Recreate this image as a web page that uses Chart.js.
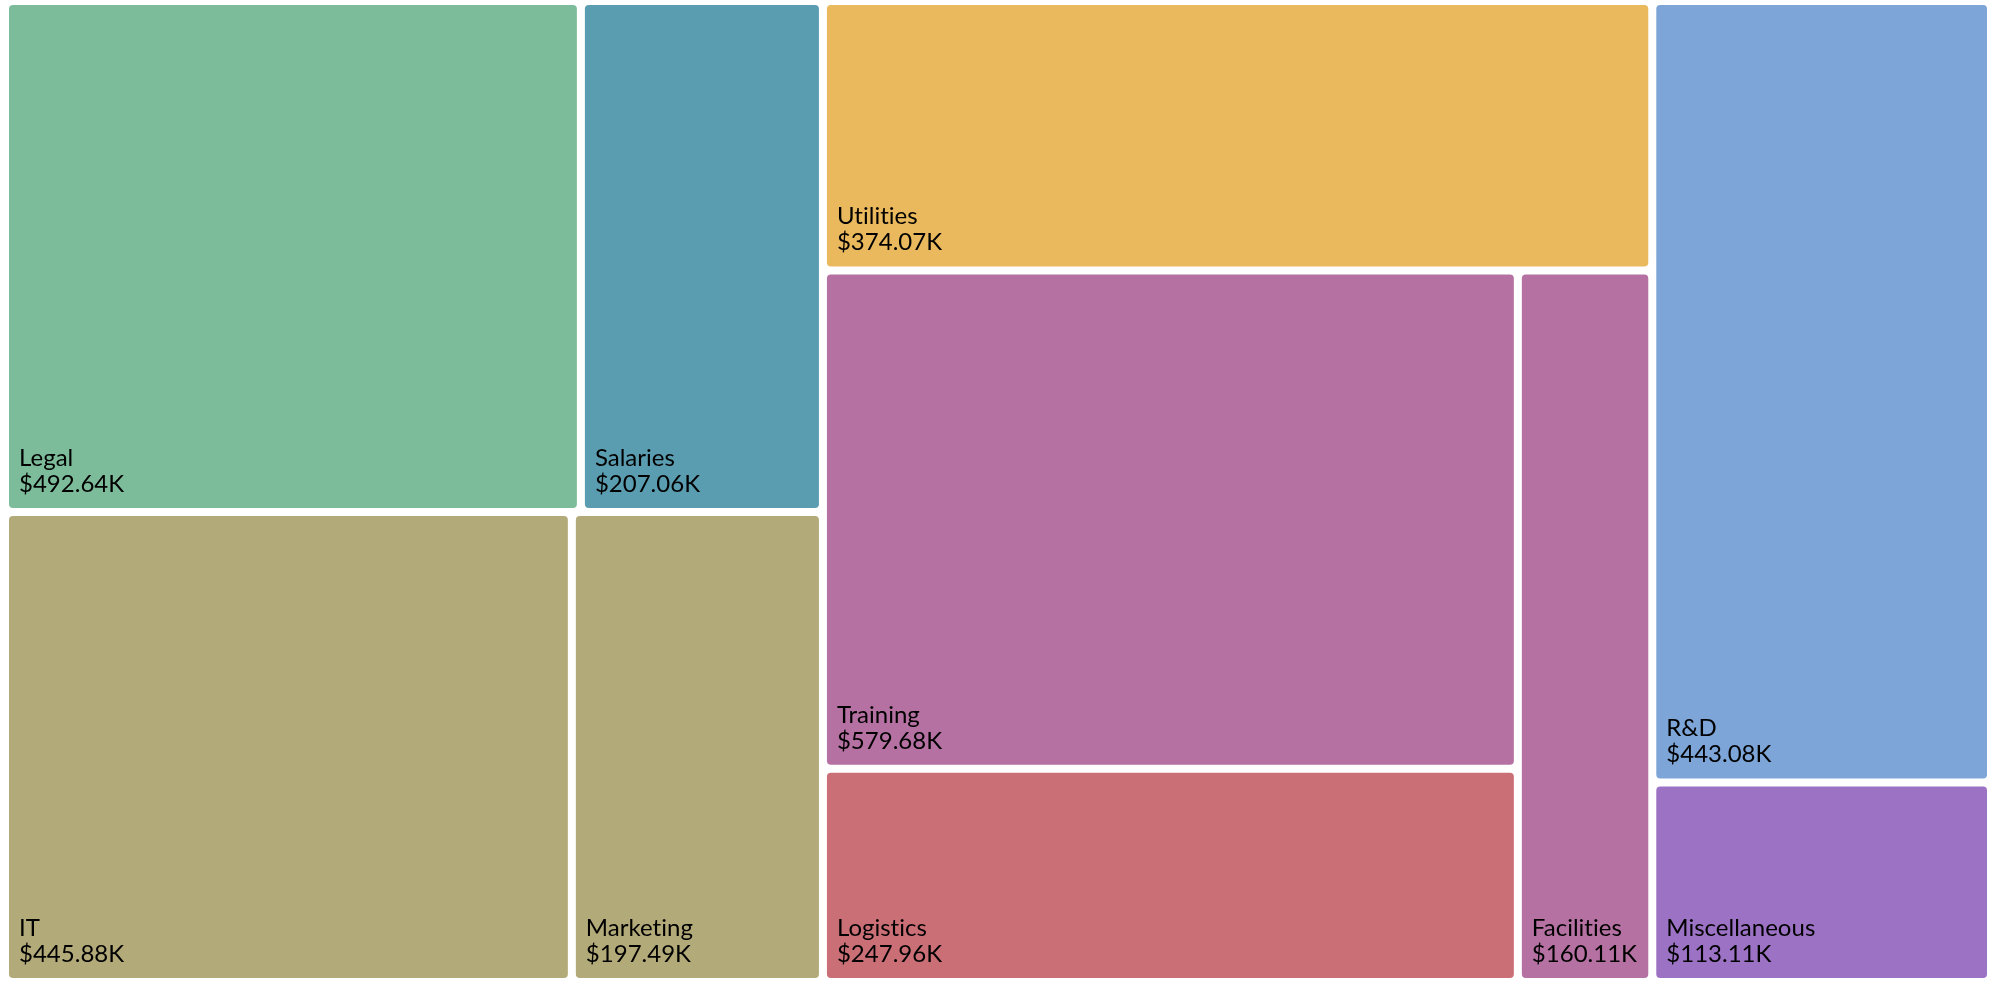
<!DOCTYPE html>
<html>
<head>
<meta charset="utf-8">
<title>Spending treemap</title>
<script src="https://cdn.jsdelivr.net/npm/chart.js@4"></script>
<style>
    html, body { margin: 0; padding: 0; background: #fff; }
    #wrap { width: 1992px; height: 984px; }
</style>
</head>
<body>
<div id="wrap"><canvas id="treemap"></canvas></div>
<script>
// ==========================================
// Spending by department — treemap
// ==========================================

const categories = ['Legal', 'Salaries', 'IT', 'Marketing', 'Utilities', 'Training', 'Logistics', 'Facilities', 'R&D', 'Miscellaneous'];
const amounts = [492.64, 207.06, 445.88, 197.49, 374.07, 579.68, 247.96, 160.11, 443.08, 113.11]; // $K
const tileColors = ['#7dbc9a', '#5b9db0', '#b3aa79', '#b3aa79', '#eab95e', '#b471a2', '#cb6f76', '#b471a2', '#7da5d8', '#9c72c4'];
// nesting of the tiles (indices into categories)
const groups = [[[0, 1], [2, 3]], [4, [[5, 6], 7]], [8, 9]];

const GAP = 8;

function nodeSum(node) {
    return Array.isArray(node) ? node.reduce((s, n) => s + nodeSum(n), 0) : amounts[node];
}

/**
 * Slice a group along its longer side (measured in pixels), recursively
 */
function layoutNode(node, box, pxW, pxH, out) {
    if (!Array.isArray(node)) {
        out[node] = box;
        return;
    }
    const total = nodeSum(node);
    const wide = (box.x1 - box.x0) * pxW >= (box.y1 - box.y0) * pxH;
    let pos = wide ? box.x0 : box.y0;
    node.forEach(child => {
        const span = nodeSum(child) / total * (wide ? box.x1 - box.x0 : box.y1 - box.y0);
        const b = wide
            ? { x0: pos, x1: pos + span, y0: box.y0, y1: box.y1 }
            : { x0: box.x0, x1: box.x1, y0: pos, y1: pos + span };
        layoutNode(child, b, pxW, pxH, out);
        pos += span;
    });
}

class TreemapController extends Chart.DatasetController {
    parse(start, count) {
        const meta = this._cachedMeta;
        const data = this.getDataset().data;
        meta._parsed = data.map(v => ({ x: 0, y: 0, v: v }));
    }

    getMinMax() {
        return { min: 0, max: 1 };
    }

    update(mode) {
        const meta = this._cachedMeta;
        this.updateElements(meta.data, 0, meta.data.length, mode);
    }

    updateElements(rects, start, count, mode) {
        const meta = this._cachedMeta;
        const xScale = meta.xScale;
        const yScale = meta.yScale;
        const boxes = [];
        layoutNode(groups, { x0: 0, x1: 1, y0: 0, y1: 1 }, xScale.width || 1, yScale.height || 1, boxes);

        for (let i = start; i < start + count; i++) {
            const b = boxes[i];
            const left = xScale.getPixelForValue(b.x0) + GAP / 2;
            const right = xScale.getPixelForValue(b.x1) - GAP / 2;
            const top = yScale.getPixelForValue(b.y0) + GAP / 2;
            const bottom = yScale.getPixelForValue(b.y1) - GAP / 2;
            const properties = {
                x: (left + right) / 2,
                width: right - left,
                y: top,
                base: bottom,
                height: bottom - top,
                horizontal: false,
                borderSkipped: {},
                enableBorderRadius: true,
                inflateAmount: 0,
                options: this.resolveDataElementOptions(i, mode)
            };
            this.updateElement(rects[i], i, properties, mode);
        }
    }
}
TreemapController.id = 'treemap';
TreemapController.defaults = {
    datasetElementType: false,
    dataElementType: 'bar'
};
TreemapController.overrides = {
    scales: {
        x: { type: 'linear', display: false, min: 0, max: 1 },
        y: { type: 'linear', display: false, min: 0, max: 1, reverse: true }
    }
};
Chart.register(TreemapController);

const tileLabels = {
    id: 'tileLabels',
    afterDatasetsDraw(chart) {
        const ctx = chart.ctx;
        const meta = chart.getDatasetMeta(0);
        ctx.save();
        ctx.font = "24px Lato, 'Noto Sans', sans-serif";
        ctx.letterSpacing = '0.01px'; // keeps "ti" from turning into a ligature
        ctx.fillStyle = '#000';
        ctx.textAlign = 'left';
        ctx.textBaseline = 'alphabetic';
        meta.data.forEach((el, i) => {
            const left = el.x - el.width / 2;
            ctx.fillText(categories[i], left + 10, el.base - 42);
            ctx.fillText('$' + amounts[i].toFixed(2) + 'K', left + 10, el.base - 16);
        });
        ctx.restore();
    }
};

new Chart(document.getElementById('treemap'), {
    type: 'treemap',
    data: {
        labels: categories,
        datasets: [{
            label: 'Spending',
            data: amounts,
            backgroundColor: tileColors,
            borderWidth: 0,
            borderRadius: 4
        }]
    },
    options: {
        responsive: true,
        maintainAspectRatio: false,
        animation: false,
        layout: { padding: { left: 5, right: 1, top: 1, bottom: 2 } },
        plugins: {
            legend: { display: false },
            tooltip: { enabled: false }
        }
    },
    plugins: [tileLabels]
});
</script>
</body>
</html>
